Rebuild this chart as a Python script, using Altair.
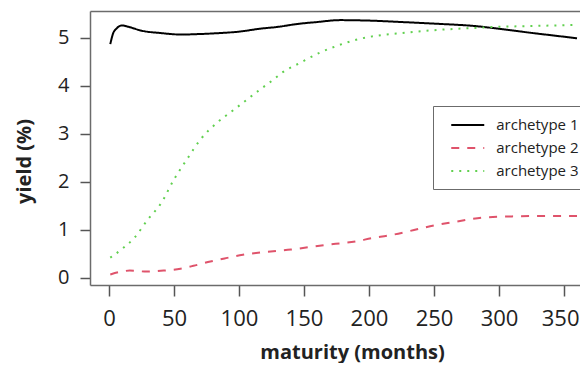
import altair as alt
import pandas as pd

names = ["archetype 1", "archetype 2", "archetype 3"]
colors = ["#000000", "#DF536B", "#61D04F"]
dashes = [[1, 0], [8, 8], [2, 6]]

# archetype 1 (solid black)
x1 = [1, 3, 6, 10, 15, 25, 40, 55, 70, 85, 100, 116, 130, 145, 160, 178, 200, 225, 255, 280, 300, 326, 345, 360]
y1 = [4.87, 5.08, 5.2, 5.26, 5.23, 5.15, 5.1, 5.07, 5.08, 5.1, 5.13, 5.19, 5.23, 5.29, 5.33, 5.37, 5.36, 5.33, 5.29, 5.25, 5.19, 5.1, 5.04, 4.99]

# archetype 2 (dashed pink)
x2 = [1, 8, 16, 29, 42, 55, 65, 78, 90, 103, 121, 140, 165, 190, 203, 215, 229, 240, 252, 265, 280, 290, 310, 330, 360]
y2 = [0.07, 0.12, 0.15, 0.13, 0.15, 0.19, 0.25, 0.34, 0.41, 0.48, 0.54, 0.59, 0.68, 0.76, 0.83, 0.88, 0.96, 1.03, 1.1, 1.16, 1.23, 1.26, 1.28, 1.29, 1.29]

# archetype 3 (dotted green)
x3 = [1, 10, 20, 30, 40, 50, 60, 70, 83, 95, 106, 116, 126, 134, 147, 162, 175, 193, 210, 225, 250, 275, 300, 330, 360]
y3 = [0.42, 0.6, 0.85, 1.22, 1.55, 2.05, 2.47, 2.87, 3.23, 3.48, 3.71, 3.92, 4.12, 4.29, 4.48, 4.69, 4.83, 4.98, 5.06, 5.1, 5.16, 5.2, 5.23, 5.25, 5.27]

x_ticks = [0, 50, 100, 150, 200, 250, 300, 350]
y_ticks = [0, 1, 2, 3, 4, 5]

frames = []
for name, xs, ys in zip(names, [x1, x2, x3], [y1, y2, y3]):
    frames.append(pd.DataFrame({"maturity": xs, "yield": ys, "series": name}))
df = pd.concat(frames, ignore_index=True)

FONT = "Open Sans"
FRAME = "#6b6b6b"

xscale = alt.Scale(domain=[-14.6, 362.3], nice=False, zero=False)
yscale = alt.Scale(domain=[-0.15, 5.56], nice=False, zero=False)

leg = dict(
    title=None,
    orient="none",
    legendX=343,
    legendY=95,
    strokeColor=FRAME,
    fillColor="white",
    padding=9.5,
    symbolType="M-2,0H2",
    symbolSize=272.25,
    symbolStrokeWidth=2,
    symbolOffset=15.75,
    labelOffset=19,
    labelFont=FONT,
    labelFontSize=15,
    labelColor="#222222",
    rowPadding=5,
)

lines = alt.Chart(df).mark_line(strokeWidth=2, interpolate="monotone", strokeCap="butt").encode(
    x=alt.X(
        "maturity:Q",
        scale=xscale,
        axis=alt.Axis(
            values=x_ticks, title="maturity (months)", labelFontSize=22,
            tickSize=11, labelPadding=12, labelFlush=17, labelFlushOffset=15,
            titleX=262, titleY=73, titleAlign="center", titleBaseline="alphabetic",
        ),
    ),
    y=alt.Y(
        "yield:Q",
        scale=yscale,
        axis=alt.Axis(
            values=y_ticks, title="yield (%)", labelFontSize=20,
            tickSize=10, labelPadding=11,
            titleX=-60, titleY=150, titleAngle=270, titleAlign="center", titleBaseline="alphabetic",
        ),
    ),
    color=alt.Color("series:N", scale=alt.Scale(domain=names, range=colors), legend=alt.Legend(**leg)),
    strokeDash=alt.StrokeDash("series:N", scale=alt.Scale(domain=names, range=dashes), legend=alt.Legend(**leg)),
)

# invisible layer carrying a top axis whose domain line draws the top of the frame
top = alt.Chart(df).mark_line(opacity=0).encode(
    x=alt.X("maturity:Q", scale=xscale,
            axis=alt.Axis(orient="top", labels=False, ticks=False, title=None, domain=True)),
    y=alt.Y("yield:Q", scale=yscale, axis=None),
    detail="series:N",
)

chart = alt.layer(lines, top).resolve_axis(x="independent", y="independent").properties(
    width=490,
    height=274,
    autosize=alt.AutoSizeParams(type="none"),
    padding={"left": 82, "top": 3, "right": 0, "bottom": 78},
).configure_view(
    strokeWidth=0
).configure_axis(
    domain=True, domainColor=FRAME, domainWidth=1.5,
    grid=False, tickColor="#555555", tickWidth=1.5,
    labelFont=FONT, labelColor="#222222",
    titleFont=FONT, titleFontSize=20, titleFontWeight="bold", titleColor="#222222",
)

chart.save("out.html", embed_options={"renderer": "svg", "actions": False})
